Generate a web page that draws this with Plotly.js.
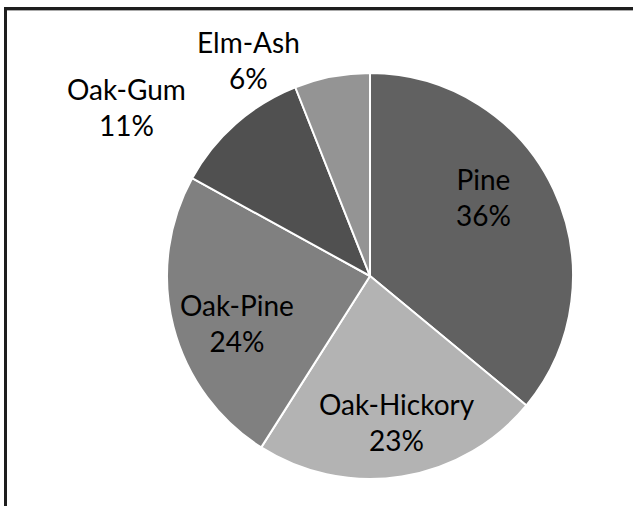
<!DOCTYPE html>
<html>
<head>
<meta charset="utf-8">
<script src="https://cdn.plot.ly/plotly-3.0.1.min.js"></script>
<style>html,body{margin:0;padding:0;background:#fff;}#chart{width:633px;height:506px;}</style>
</head>
<body>
<div id="chart"></div>
<script>
var categories = ["Pine", "Oak-Hickory", "Oak-Pine", "Oak-Gum", "Elm-Ash"];
var values = [36, 23, 24, 11, 6];
var colors = ["#616161", "#b3b3b3", "#808080", "#505050", "#949494"];

var W = 633, H = 506;
var total = values.reduce(function(a, b){ return a + b; }, 0);
var pct = values.map(function(v){ return Math.round(v / total * 100) + "%"; });

// pie geometry in pixels
var cx = 370, cy = 276, R = 203;

var trace = {
  type: "pie",
  labels: categories,
  values: values,
  sort: false,
  direction: "clockwise",
  rotation: 0,
  marker: {colors: colors, line: {color: "#ffffff", width: 2}},
  textinfo: "none",
  hoverinfo: "none",
  showlegend: false,
  domain: {x: [(cx - R) / W, (cx + R) / W], y: [(H - cy - R) / H, (H - cy + R) / H]}
};

// label block centres (pixels)
var labelPos = [[483, 197], [397, 422], [237, 323], [126, 107], [248, 60]];
var annotations = categories.map(function(c, i){
  return {
    xref: "paper", yref: "paper",
    x: labelPos[i][0] / W, y: 1 - labelPos[i][1] / H,
    xanchor: "center", yanchor: "middle",
    text: c + "<br>" + pct[i],
    showarrow: false,
    font: {family: "Lato, sans-serif", size: 28, color: "#000000"},
    align: "center"
  };
});

var layout = {
  width: W, height: H,
  margin: {l: 0, r: 0, t: 0, b: 0},
  paper_bgcolor: "#ffffff",
  font: {family: "Lato, sans-serif"},
  annotations: annotations,
  shapes: [
    {type: "line", xref: "paper", yref: "paper", x0: 4 / W, x1: 1, y0: 1 - 8.5 / H, y1: 1 - 8.5 / H, line: {color: "#1e1e1e", width: 3}},
    {type: "line", xref: "paper", yref: "paper", x0: 7 / W, x1: 1, y0: 1 - 10.5 / H, y1: 1 - 10.5 / H, line: {color: "#aaaaaa", width: 1}},
    {type: "line", xref: "paper", yref: "paper", x0: 5.5 / W, x1: 5.5 / W, y0: 0, y1: 1 - 7 / H, line: {color: "#1e1e1e", width: 3}}
  ]
};

Plotly.newPlot("chart", [trace], layout, {displayModeBar: false, staticPlot: true});
</script>
</body>
</html>
